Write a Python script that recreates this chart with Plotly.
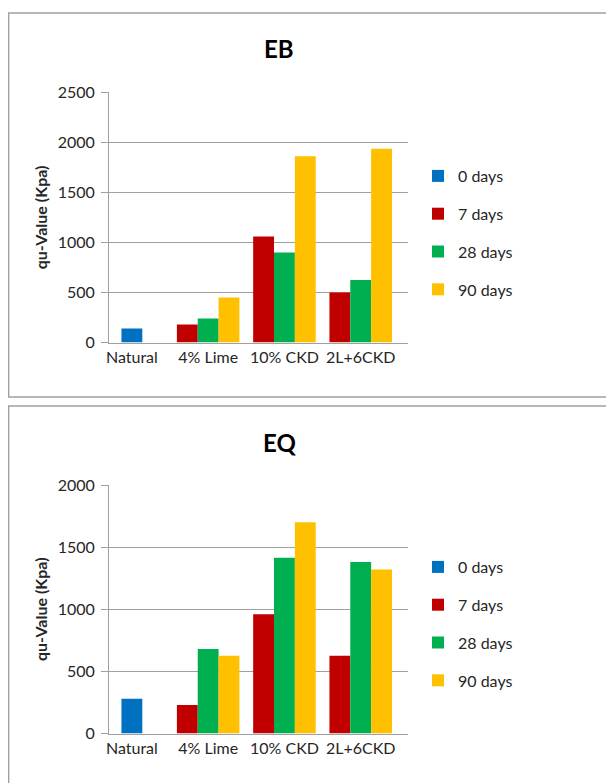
import plotly.graph_objects as go

categories = ["Natural", "4% Lime", "10% CKD", "2L+6CKD"]
series_names = ["0 days", "7 days", "28 days", "90 days"]
colors = ["#0070C0", "#C00000", "#00B050", "#FFC000"]

eb_0 = [140, None, None, None]
eb_7 = [None, 180, 1060, 500]
eb_28 = [None, 240, 900, 625]
eb_90 = [None, 450, 1860, 1935]

eq_0 = [280, None, None, None]
eq_7 = [None, 230, 960, 625]
eq_28 = [None, 680, 1415, 1380]
eq_90 = [None, 625, 1700, 1320]

W, H = 614, 783
OFF = 8  # page body margin
FONT = "Lato, Calibri, 'Open Sans', sans-serif"
GRID = "#A0A0A0"
TXT = "#262626"

def px(x):
    return (x - OFF) / W

def py(y):
    return 1 - (y - OFF) / H

fig = go.Figure()

panels = [
    ("x", "y", "legend", [eb_0, eb_7, eb_28, eb_90]),
    ("x2", "y2", "legend2", [eq_0, eq_7, eq_28, eq_90]),
]
# slot order: 7 days left, 28 days middle (shared with 0 days), 90 days right
offsets = ["2", "1", "2", "3"]
for xa, ya, lg, vals in panels:
    for i in [1, 2, 3, 0]:
        fig.add_trace(go.Bar(
            x=categories, y=vals[i], name=series_names[i],
            marker=dict(color=colors[i], line=dict(width=0)),
            offsetgroup=offsets[i], legendgroup=lg + series_names[i],
            legendrank=i + 1, xaxis=xa, yaxis=ya, legend=lg,
        ))

axis_common_x = dict(
    type="category", range=[-0.3, 3.62], showgrid=False,
    showline=True, linecolor=GRID, linewidth=1, ticks="",
    tickfont=dict(family=FONT, size=16, color=TXT), automargin=False,
)
axis_common_y = dict(
    showgrid=True, gridcolor=GRID, gridwidth=1, showline=True,
    linecolor=GRID, linewidth=1, ticks="outside", ticklen=7,
    tickcolor=GRID, zeroline=False, ticklabelstandoff=3,
    tickfont=dict(family=FONT, size=16, color=TXT), automargin=False,
    title=dict(text="<b>qu-Value (Kpa)</b>", font=dict(family=FONT, size=16, color=TXT), standoff=6),
)

legend_common = dict(
    xanchor="left", yanchor="top", traceorder="grouped", tracegroupgap=14,
    itemwidth=30, font=dict(family=FONT, size=16, color=TXT),
    bgcolor="rgba(0,0,0,0)",
)

fig.update_layout(
    width=W, height=H, autosize=False,
    margin=dict(l=0, r=0, t=0, b=0),
    paper_bgcolor="white", plot_bgcolor="white",
    barmode="group", bargap=0.18, bargroupgap=0,
    xaxis=dict(domain=[px(109), px(408)], anchor="y", **axis_common_x),
    yaxis=dict(domain=[py(342.5), py(92.3)], anchor="x", range=[0, 2500], dtick=500, **axis_common_y),
    xaxis2=dict(domain=[px(109), px(408)], anchor="y2", **axis_common_x),
    yaxis2=dict(domain=[py(733.5), py(485)], anchor="x2", range=[0, 2000], dtick=500, **axis_common_y),
    legend=dict(x=px(418), y=py(159), **legend_common),
    legend2=dict(x=px(418), y=py(550), **legend_common),
    annotations=[
        dict(text="<b>EB</b>", x=px(279), y=py(48), xref="paper", yref="paper",
             xanchor="center", yanchor="middle",
             showarrow=False, font=dict(family=FONT, size=24, color="black")),
        dict(text="<b>EQ</b>", x=px(279), y=py(442), xref="paper", yref="paper",
             xanchor="center", yanchor="middle",
             showarrow=False, font=dict(family=FONT, size=24, color="black")),
    ],
    shapes=[
        dict(type="rect", xref="paper", yref="paper", x0=0.001, x1=1.05,
             y0=py(397), y1=py(13), line=dict(color=GRID, width=1.5)),
        dict(type="rect", xref="paper", yref="paper", x0=0.001, x1=1.05,
             y0=-0.05, y1=py(406), line=dict(color=GRID, width=1.5)),
    ],
)

fig.write_html("out.html")
